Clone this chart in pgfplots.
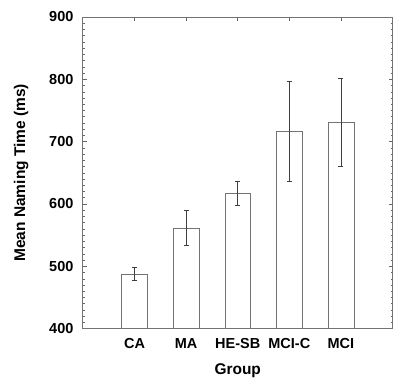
\documentclass[border=0pt]{standalone}
\usepackage{pgfplots}
\pgfplotsset{compat=1.18}
\usepackage{fontspec}
\setmainfont{Liberation Sans}
\begin{document}
\begin{tikzpicture}
\begin{axis}[
  scale only axis,
  width=310pt, height=312pt,
  xmin=0, xmax=6, ymin=400, ymax=900,
  xtick={1,2,3,4,5},
  xticklabels={CA,MA,HE-SB,MCI-C,MCI},
  ytick={400,500,600,700,800,900},
  minor y tick num=9,
  tick align=inside,
  major tick length=4pt,
  minor tick length=2pt,
  axis line style={draw=black!55, line width=0.9pt},
  every tick/.style={black!60, line width=0.5pt},
  tick label style={font=\fontsize{14.5}{16}\selectfont\bfseries},
  label style={font=\fontsize{15.5}{17}\selectfont\bfseries},
  /pgf/number format/assume math mode=true,
  yticklabel style={xshift=-6pt},
  xticklabel style={yshift=-6pt},
  ylabel={Mean Naming Time (ms)},
  xlabel={Group},
  ylabel style={yshift=14pt},
  xlabel style={yshift=-8pt},
  clip=false,
]
\addplot[ybar, bar width=0.5, draw=black!55, fill=white, line width=0.5pt,
  error bars/.cd, y dir=both, y explicit,
  error bar style={draw=black!75, line width=0.7pt},
  error mark options={rotate=90, mark size=2.5pt, draw=black!75, line width=0.7pt}]
  coordinates {
  (1,488) +- (0,11)
  (2,561) +- (0,28)
  (3,617) +- (0,20)
  (4,716) +- (0,80)
  (5,731) +- (0,71)
  };
\end{axis}
\path[use as bounding box] (-83pt,-53pt) rectangle (310pt,329pt);
\end{tikzpicture}
\end{document}
